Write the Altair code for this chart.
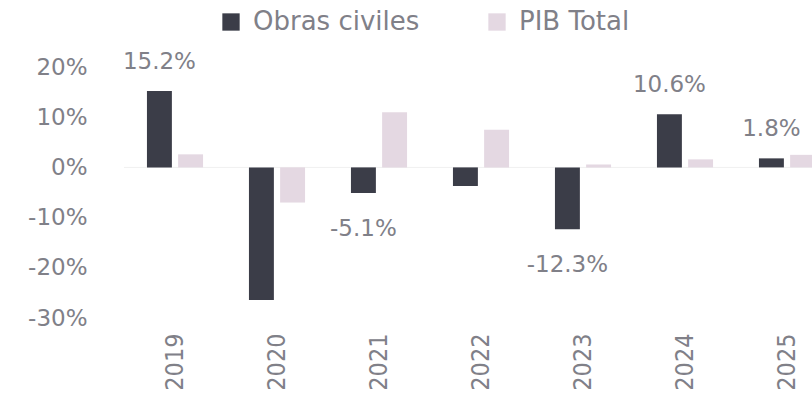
import altair as alt
import pandas as pd

# Annual growth (%) of civil works vs. total GDP
years = ["2019", "2020", "2021", "2022", "2023", "2024", "2025"]
obras_civiles = [15.2, -26.4, -5.1, -3.7, -12.3, 10.6, 1.8]
pib_total = [2.6, -7.0, 11.0, 7.5, 0.6, 1.6, 2.5]
labelled_years = ["2019", "2021", "2023", "2024", "2025"]

series_names = ["Obras civiles", "PIB Total"]
series_colors = ["#3b3d48", "#e4d8e2"]

rows = []
for y, oc, pib in zip(years, obras_civiles, pib_total):
    rows.append({"year": y, "serie": series_names[0], "value": oc})
    rows.append({"year": y, "serie": series_names[1], "value": pib})
df = pd.DataFrame(rows)

label_df = pd.DataFrame(
    [{"year": y, "serie": series_names[0], "value": v,
      "label": f"{v:.1f}%"}
     for y, v in zip(years, obras_civiles) if y in labelled_years]
)

FONT = "DejaVu Sans"
TEXT_COLOR = "#808088"

x_scale = alt.Scale(domain=years, range=[0, 714],
                    paddingInner=0.45, paddingOuter=0.225)
y_scale = alt.Scale(domain=[-30, 20], nice=False)
offset_scale = alt.Scale(domain=series_names, paddingInner=0.2, paddingOuter=0)

x_enc = alt.X("year:N", scale=x_scale, sort=years,
              axis=alt.Axis(title=None, labelAngle=-90, labelPadding=15,
                            labelFont="DejaVu Sans Condensed",
                            labelFontSize=25, labelColor=TEXT_COLOR,
                            domain=False, ticks=False, grid=False))
y_enc = alt.Y("value:Q", scale=y_scale,
              axis=alt.Axis(title=None, values=[-30, -20, -10, 0, 10, 20],
                            labelExpr="datum.value + '%'",
                            labelFont=FONT, labelFontSize=23,
                            labelColor=TEXT_COLOR, labelPadding=37,
                            domain=False, ticks=False, grid=False))

bars = alt.Chart(df).mark_bar().encode(
    x=x_enc,
    xOffset=alt.XOffset("serie:N", scale=offset_scale, sort=series_names),
    y=y_enc,
    y2=alt.datum(0),
    color=alt.Color("serie:N", sort=series_names,
                    scale=alt.Scale(domain=series_names, range=series_colors),
                    legend=alt.Legend(title=None, orient="none",
                                      direction="horizontal",
                                      legendX=94, legendY=-58,
                                      symbolType="square", symbolSize=300,
                                      symbolStrokeWidth=0,
                                      labelFont=FONT, labelFontSize=26,
                                      labelColor=TEXT_COLOR, labelOffset=9,
                                      columnPadding=64, labelLimit=400)),
)

zero_line = alt.Chart(pd.DataFrame({"v": [0]})).mark_rule(
    color="#f0f0f0", strokeWidth=1
).encode(y=alt.Y("v:Q", scale=y_scale))

pos_labels = alt.Chart(label_df).transform_filter("datum.value >= 0").mark_text(
    font=FONT, fontSize=23, color=TEXT_COLOR, baseline="middle", dy=-29
).encode(
    x=alt.X("year:N", scale=x_scale, sort=years),
    xOffset=alt.XOffset("serie:N", scale=offset_scale, sort=series_names),
    y=alt.Y("value:Q", scale=y_scale),
    text="label:N",
)

neg_labels = alt.Chart(label_df).transform_filter("datum.value < 0").mark_text(
    font=FONT, fontSize=23, color=TEXT_COLOR, baseline="middle", dy=36
).encode(
    x=alt.X("year:N", scale=x_scale, sort=years),
    xOffset=alt.XOffset("serie:N", scale=offset_scale, sort=series_names),
    y=alt.Y("value:Q", scale=y_scale),
    text="label:N",
)

chart = alt.layer(zero_line, bars, pos_labels, neg_labels).properties(
    width=688,
    height=251,
    padding={"left": 124, "top": 67, "right": 0, "bottom": 76},
    autosize=alt.AutoSizeParams(type="none"),
    background="white",
).configure_view(stroke=None)

chart.save("out.html", embed_options={"renderer": "svg", "actions": False})
